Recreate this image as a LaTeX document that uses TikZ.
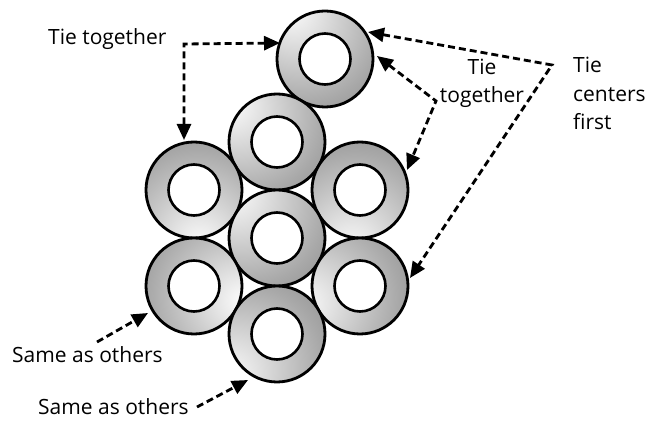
\documentclass[tikz,border=0pt]{standalone}
\usepackage{fontspec}
\setmainfont{Open Sans}
\usetikzlibrary{arrows.meta}
\newcommand\mkringshade[3]{%
  \pgfdeclareradialshading{#1}{\pgfpoint{#2bp}{#3bp}}{%
    color(0bp)=(white); color(12bp)=(black!10); color(40bp)=(black!34);
    color(70bp)=(black!56); color(100bp)=(black!62)}}
\mkringshade{shA}{-19}{28}
\mkringshade{shB}{-26}{21}
\mkringshade{shC}{3}{-31}
\mkringshade{shD}{-5}{-34}
\mkringshade{shE}{-25}{26}
\mkringshade{shF}{27}{-8}
\mkringshade{shG}{-33}{-10}
\mkringshade{shH}{-28}{-24}
\begin{document}
\begin{tikzpicture}[x=1pt,y=-1pt,
  ringouter/.style={circle,draw=black,line width=2.8pt,minimum size=96pt,inner sep=0pt,shading=#1},
  ringinner/.style={circle,draw=black,line width=2.6pt,fill=white,minimum size=51pt,inner sep=0pt},
  tiearrow/.style={line width=2.8pt,dash pattern=on 7pt off 4pt,
    {Triangle[length=16pt,width=14pt]}-{Triangle[length=16pt,width=14pt]}},
  onearrow/.style={line width=2.8pt,dash pattern=on 7pt off 4pt,-{Triangle[length=16pt,width=14pt]}},
  lbl/.style={font=\fontsize{21}{28.5}\selectfont,inner sep=0pt}]
\useasboundingbox (0,0) rectangle (657,422);
% rings
\node[ringouter=shA] (rtop) at (325,59) {};
\node[ringinner] (itop) at (rtop) {};
\node[ringouter=shB] (rsec) at (277,142) {};
\node[ringinner] (isec) at (rsec) {};
\node[ringouter=shC] (rul) at (194,190) {};
\node[ringinner] (iul) at (rul) {};
\node[ringouter=shD] (rur) at (360,190) {};
\node[ringinner] (iur) at (rur) {};
\node[ringouter=shE] (rcen) at (277,238) {};
\node[ringinner] (icen) at (rcen) {};
\node[ringouter=shF] (rll) at (194,286) {};
\node[ringinner] (ill) at (rll) {};
\node[ringouter=shG] (rlr) at (360,286) {};
\node[ringinner] (ilr) at (rlr) {};
\node[ringouter=shH] (rbot) at (277,334) {};
\node[ringinner] (ibot) at (rbot) {};
% labels
\node[lbl,anchor=base west] (ltt) at (48,45) {Tie together};
\node[lbl,anchor=base,align=center] (lmid) at (482,103) {Tie\\together};
\node[lbl,anchor=base west,align=left] (lcen) at (573,130) {Tie\\centers\\first};
\node[lbl,anchor=base west] (ls1) at (12,363) {Same as others};
\node[lbl,anchor=base west] (ls2) at (38,415) {Same as others};
% arrow corners and tips
\coordinate (c1) at (184,44);
\coordinate (t1a) at (280,43);
\coordinate (t1b) at (184,140);
\coordinate (c2) at (436,101);
\coordinate (t2a) at (377,56);
\coordinate (t2b) at (407,170);
\coordinate (c3) at (552,65);
\coordinate (t3a) at (368,32);
\coordinate (t3b) at (410,278);
\coordinate (s1) at (97,342);
\coordinate (t4) at (148,313);
\coordinate (s2) at (197,407);
\coordinate (t5) at (248,380);
\draw[tiearrow] (t1a) -- (c1) -- (t1b);
\draw[tiearrow] (t2a) -- (c2) -- (t2b);
\draw[tiearrow] (t3a) -- (c3) -- (t3b);
\draw[onearrow] (s1) -- (t4);
\draw[onearrow] (s2) -- (t5);
\end{tikzpicture}
\end{document}
